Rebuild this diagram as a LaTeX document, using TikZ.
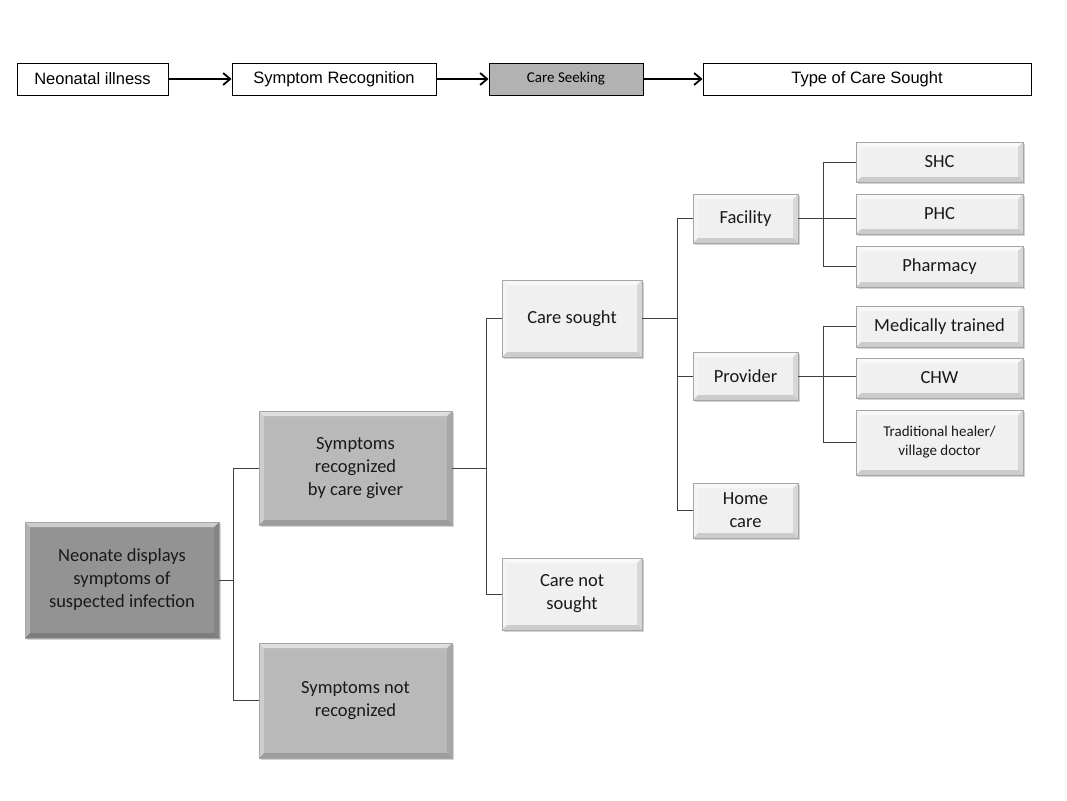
\documentclass[tikz,border=0pt]{standalone}
\usepackage{fontspec}
\setmainfont{Carlito}
\newfontfamily\arialf{Liberation Sans}
\usetikzlibrary{shadows,arrows.meta}
\tikzset{
 top/.style={draw,line width=1pt,font=\arialf\fontsize{16.5}{19}\selectfont,inner sep=0pt,minimum height=32pt},
 arr/.style={line width=1.8pt,-{Straight Barb[length=7pt,width=12pt]}},
 bev/.style={draw=gray!70,line width=0.4pt,align=center,inner sep=2pt,drop shadow={shadow xshift=2pt,shadow yshift=-2pt,opacity=.35},
  font=\fontsize{18.5}{23}\selectfont,text=black!90,
  path picture={
   \def\b{5pt}
   \fill[white,opacity=.55] (path picture bounding box.north west) -- (path picture bounding box.north east) -- ([shift={(-\b,-\b)}]path picture bounding box.north east) -- ([shift={(\b,-\b)}]path picture bounding box.north west) -- cycle;
   \fill[white,opacity=.3] (path picture bounding box.north west) -- (path picture bounding box.south west) -- ([shift={(\b,\b)}]path picture bounding box.south west) -- ([shift={(\b,-\b)}]path picture bounding box.north west) -- cycle;
   \fill[black,opacity=.15] (path picture bounding box.south west) -- (path picture bounding box.south east) -- ([shift={(-\b,\b)}]path picture bounding box.south east) -- ([shift={(\b,\b)}]path picture bounding box.south west) -- cycle;
   \fill[black,opacity=.1] (path picture bounding box.north east) -- (path picture bounding box.south east) -- ([shift={(-\b,\b)}]path picture bounding box.south east) -- ([shift={(-\b,-\b)}]path picture bounding box.north east) -- cycle;
  }},
 light/.style={bev,fill=gray!12},
 mid/.style={bev,fill=gray!55},
 dark/.style={bev,fill=gray!85},
 con/.style={line width=0.9pt,black!75},
}
\begin{document}
\begin{tikzpicture}[x=1pt,y=-1pt]
\useasboundingbox (0,0) rectangle (1067,800);
% top row
\node[top,minimum width=151pt] (t1) at (92.5,79) {Neonatal illness};
\node[top,minimum width=204pt] (t2) at (334,79) {Symptom Recognition};
\node[top,minimum width=154pt,fill=gray!60,font=\fontsize{15}{17}\selectfont] (t3) at (566,79) {Care Seeking};
\node[top,minimum width=328pt] (t4) at (867,79) {Type of Care Sought};
\draw[arr] (t1) -- (t2);
\draw[arr] (t2) -- (t3);
\draw[arr] (t3) -- (t4);
% tree
\node[dark,minimum width=194pt,minimum height=116pt] (n0) at (122,580) {Neonate displays\\symptoms of\\suspected infection};
\node[mid,minimum width=193pt,minimum height=114pt] (r) at (355.5,468) {Symptoms\\recognized\\by care giver};
\node[mid,minimum width=193pt,minimum height=115pt] (nr) at (355.5,700.5) {Symptoms not\\recognized};
\node[light,minimum width=140pt,minimum height=77pt] (cs) at (572,318.5) {Care sought};
\node[light,minimum width=140pt,minimum height=72pt] (cn) at (572,594) {Care not\\sought};
\node[light,minimum width=105pt,minimum height=49pt] (fa) at (745.5,218.5) {Facility};
\node[light,minimum width=105pt,minimum height=48pt] (pr) at (745.5,376) {Provider};
\node[light,minimum width=105pt,minimum height=55pt] (hc) at (745.5,510.5) {Home\\care};
\node[light,minimum width=167pt,minimum height=40pt] (shc) at (939.5,162) {SHC};
\node[light,minimum width=167pt,minimum height=40pt] (phc) at (939.5,214) {PHC};
\node[light,minimum width=167pt,minimum height=41pt] (ph) at (939.5,266.5) {Pharmacy};
\node[light,minimum width=167pt,minimum height=41pt] (mt) at (939.5,326.5) {Medically trained};
\node[light,minimum width=167pt,minimum height=40pt] (chw) at (939.5,378) {CHW};
\node[light,minimum width=167pt,minimum height=65pt,font=\fontsize{15}{19}\selectfont] (th) at (939.5,442.5) {Traditional healer/\\village doctor};
% connectors
\draw[con] (n0.east) -- (233,580);
\draw[con] (233,468) -- (r.west); \draw[con] (233,700.5) -- (nr.west); \draw[con] (233,468) -- (233,700.5);
\draw[con] (r.east) -- (486,468);
\draw[con] (486,318.5) -- (cs.west); \draw[con] (486,594) -- (cn.west); \draw[con] (486,318.5) -- (486,594);
\draw[con] (cs.east) -- (677,318.5);
\draw[con] (677,218.5) -- (fa.west); \draw[con] (677,376) -- (pr.west); \draw[con] (677,510.5) -- (hc.west); \draw[con] (677,218.5) -- (677,510.5);
\draw[con] (fa.east) -- (fa.east -| phc.west);
\draw[con] (823,162) -- (shc.west); \draw[con] (823,266.5) -- (ph.west); \draw[con] (823,162) -- (823,266.5);
\draw[con] (pr.east) -- (pr.east -| chw.west);
\draw[con] (823,326.5) -- (mt.west); \draw[con] (823,442.5) -- (th.west); \draw[con] (823,326.5) -- (823,442.5);
\end{tikzpicture}
\end{document}
